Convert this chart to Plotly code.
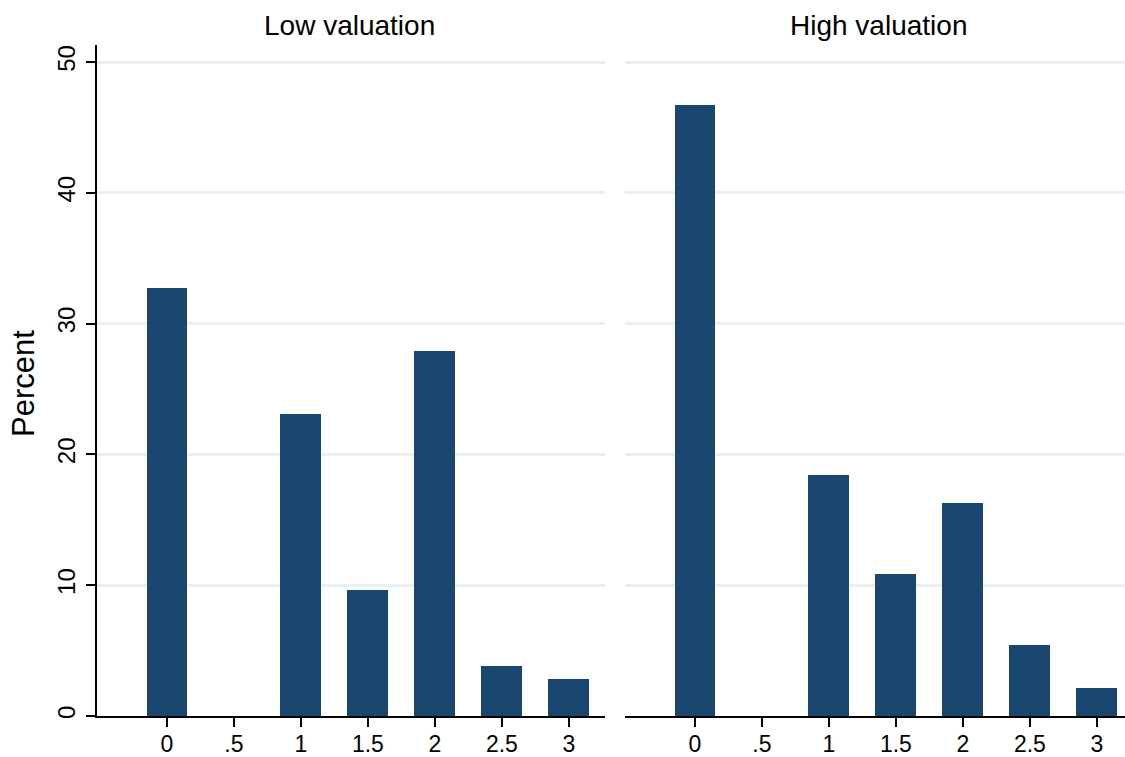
import plotly.graph_objects as go

# Data
categories = [0, 0.5, 1, 1.5, 2, 2.5, 3]
tick_labels = ["0", ".5", "1", "1.5", "2", "2.5", "3"]
low_valuation = [32.7, 0, 23.1, 9.6, 27.9, 3.8, 2.85]
high_valuation = [46.75, 0, 18.45, 10.85, 16.3, 5.4, 2.12]
panel_titles = ["Low valuation", "High valuation"]
y_ticks = [0, 10, 20, 30, 40, 50]

BAR_COLOR = "#1A476F"
GRID_COLOR = "#E9F0F3"
FONT = "Liberation Sans, Arial, sans-serif"

fig = go.Figure()
fig.add_trace(go.Bar(x=categories, y=low_valuation, width=0.305,
                     marker=dict(color=BAR_COLOR, line=dict(width=0)),
                     xaxis="x", yaxis="y", showlegend=False))
fig.add_trace(go.Bar(x=categories, y=high_valuation, width=0.305,
                     marker=dict(color=BAR_COLOR, line=dict(width=0)),
                     xaxis="x2", yaxis="y2", showlegend=False))

xcommon = dict(
    tickvals=categories, ticktext=tick_labels,
    showline=True, linecolor="black", linewidth=2,
    ticks="outside", ticklen=9, tickwidth=2, tickcolor="black",
    showgrid=False, zeroline=False, automargin=False,
    tickfont=dict(family=FONT, size=23, color="black"),
    ticklabelstandoff=-3,
)
fig.update_layout(
    width=1125, height=757,
    margin=dict(l=97, r=0, t=45, b=41),
    paper_bgcolor="white", plot_bgcolor="white",
    bargap=0,
    xaxis=dict(domain=[0, 0.4942], range=[-0.522, 3.27], anchor="y", **xcommon),
    xaxis2=dict(domain=[0.5136, 1], range=[-0.522, 3.21], anchor="y2", **xcommon),
    yaxis=dict(range=[0, 51.3], tickvals=y_ticks, tickangle=-90,
               showline=True, linecolor="black", linewidth=2,
               ticks="outside", ticklen=9, tickwidth=2, tickcolor="black",
               showgrid=True, gridcolor=GRID_COLOR, gridwidth=2.5,
               zeroline=False, anchor="x", automargin=False,
               tickfont=dict(family=FONT, size=24, color="black"),
               ticklabelstandoff=1),
    yaxis2=dict(range=[0, 51.3], tickvals=y_ticks, showticklabels=False,
                showline=False, ticks="", automargin=False,
                showgrid=True, gridcolor=GRID_COLOR, gridwidth=2.5,
                zeroline=False, anchor="x2"),
    annotations=[
        dict(text=panel_titles[0], x=0.2461, y=1.0298, xref="paper", yref="paper",
             xanchor="center", yanchor="middle", showarrow=False,
             font=dict(family=FONT, size=28, color="black")),
        dict(text=panel_titles[1], x=0.7607, y=1.0298, xref="paper", yref="paper",
             xanchor="center", yanchor="middle", showarrow=False,
             font=dict(family=FONT, size=28, color="black")),
        dict(text="Percent", x=-0.071, y=0.4948, xref="paper", yref="paper",
             xanchor="center", yanchor="middle", showarrow=False, textangle=-90,
             font=dict(family=FONT, size=31, color="black")),
    ],
)

fig.write_html("out.html", config={"displayModeBar": False},
               post_script="document.body.style.margin='0';document.body.style.overflow='hidden';")
